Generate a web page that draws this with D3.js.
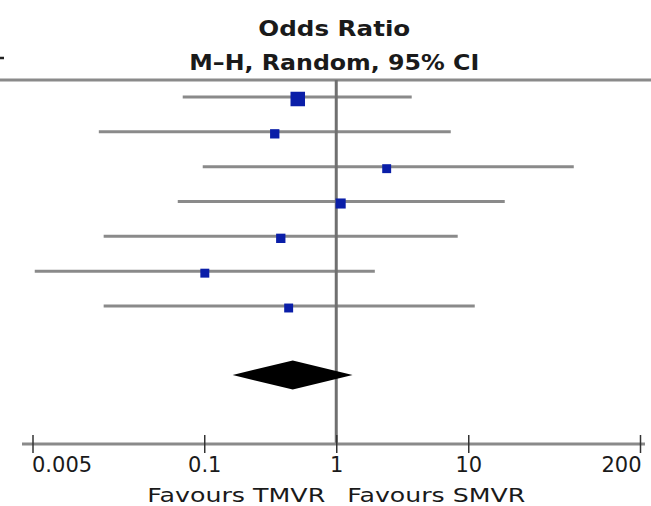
<!DOCTYPE html>
<html>
<head>
<meta charset="utf-8">
<script src="https://cdn.jsdelivr.net/npm/d3@7"></script>
<style>
  html, body { margin: 0; padding: 0; background: #fff; }
  svg { display: block; }
  text { font-family: "DejaVu Sans", Verdana, sans-serif; fill: #1a1a1a; }
</style>
</head>
<body>
<svg id="chart" width="651" height="506"></svg>
<script>
// ---- data ----
const studies   = ["S1", "S2", "S3", "S4", "S5", "S6", "S7"];
const oddsRatio = [0.511, 0.342, 2.41, 1.08, 0.38, 0.101, 0.436];
const ciLower   = [0.0687, 0.0159, 0.0974, 0.063, 0.0173, 0.0052, 0.0173];
const ciUpper   = [3.73, 7.37, 63, 18.9, 8.32, 1.96, 11.2];
const weights   = [29, 12, 11, 14, 12, 11, 11];
const pooled    = { or: 0.468, lo: 0.164, hi: 1.33 };
const tickValues = [0.005, 0.1, 1, 10, 200];
const tickLabels = ["0.005", "0.1", "1", "10", "200"];
const titleLines = ["Odds Ratio", "M\u2013H, Random, 95% CI"];
const favourLabels = ["Favours TMVR", "Favours SMVR"];

const svg = d3.select("#chart");
const x = d3.scaleLog().domain([0.005, 200]).range([32.5, 640]);
const y = d3.scalePoint().domain(studies).range([97, 306]);
const size = d3.scaleSqrt().domain([0, 29]).range([0, 14.5]);
const axisY = 444, headerY = 80, diamondY = 375;

const gray = "#8a8a8a";

// header rule
svg.append("line").attr("x1", 0).attr("x2", 651).attr("y1", headerY).attr("y2", headerY)
  .attr("stroke", gray).attr("stroke-width", 3);

// titles
svg.append("text").attr("x", x(1) - 2).attr("y", 36).attr("text-anchor", "middle")
  .attr("font-size", 21).attr("font-weight", "bold")
  .attr("textLength", 152).attr("lengthAdjust", "spacingAndGlyphs")
  .text(titleLines[0]);
svg.append("text").attr("x", x(1) - 2).attr("y", 70).attr("text-anchor", "middle")
  .attr("font-size", 21).attr("font-weight", "bold")
  .attr("textLength", 290).attr("lengthAdjust", "spacingAndGlyphs")
  .text(titleLines[1]);

// CI lines
const data = studies.map((s, i) => ({ s, or: oddsRatio[i], lo: ciLower[i], hi: ciUpper[i], w: weights[i] }));
svg.append("g").selectAll("line").data(data).join("line")
  .attr("x1", d => x(d.lo)).attr("x2", d => x(d.hi))
  .attr("y1", d => y(d.s)).attr("y2", d => y(d.s))
  .attr("stroke", gray).attr("stroke-width", 3);

// null line
svg.append("line").attr("x1", x(1)).attr("x2", x(1)).attr("y1", headerY).attr("y2", axisY)
  .attr("stroke", "#707070").attr("stroke-width", 3);

// squares
svg.append("g").selectAll("rect").data(data).join("rect")
  .attr("x", d => x(d.or) - size(d.w) / 2)
  .attr("y", d => y(d.s) + 2 - size(d.w) / 2)
  .attr("width", d => size(d.w)).attr("height", d => size(d.w))
  .attr("fill", "#0a1ea8");

// diamond
const dh = 14.5;
svg.append("path")
  .attr("d", `M${x(pooled.lo)},${diamondY} L${x(pooled.or)},${diamondY - dh} L${x(pooled.hi)},${diamondY} L${x(pooled.or)},${diamondY + dh} Z`)
  .attr("fill", "#000");

// axis
const axisG = svg.append("g").attr("transform", `translate(0,${axisY})`);
axisG.append("line").attr("x1", 22).attr("x2", 645).attr("y1", 0).attr("y2", 0)
  .attr("stroke", gray).attr("stroke-width", 3);
const axis = d3.axisBottom(x).tickValues(tickValues).tickFormat((d, i) => tickLabels[i]).tickSize(0).tickPadding(0);
const ag = axisG.append("g").call(axis);
ag.select(".domain").remove();
ag.selectAll(".tick line").attr("y1", -9).attr("y2", 9).attr("stroke", "#333").attr("stroke-width", 1.5);
const last = tickValues.length - 1;
ag.selectAll(".tick text").attr("y", 28).attr("dy", 0).attr("font-size", 21)
  .attr("font-family", "DejaVu Sans, Verdana, sans-serif").attr("fill", "#1a1a1a")
  .attr("text-anchor", (d, i) => i === 0 ? "start" : (i === last ? "end" : "middle"))
  .attr("x", (d, i) => i === 0 ? -1 : (i === last ? 1 : 0));

// favours labels
svg.append("text").attr("x", x(1) - 11).attr("y", 502).attr("text-anchor", "end")
  .attr("font-size", 20).attr("textLength", 178).attr("lengthAdjust", "spacingAndGlyphs")
  .text(favourLabels[0]);
svg.append("text").attr("x", x(1) + 11).attr("y", 502).attr("text-anchor", "start")
  .attr("font-size", 20).attr("textLength", 178).attr("lengthAdjust", "spacingAndGlyphs")
  .text(favourLabels[1]);

// cropped remnant at left edge
svg.append("line").attr("x1", 0).attr("x2", 4).attr("y1", 58).attr("y2", 58)
  .attr("stroke", "#222").attr("stroke-width", 2.5);
</script>
</body>
</html>
